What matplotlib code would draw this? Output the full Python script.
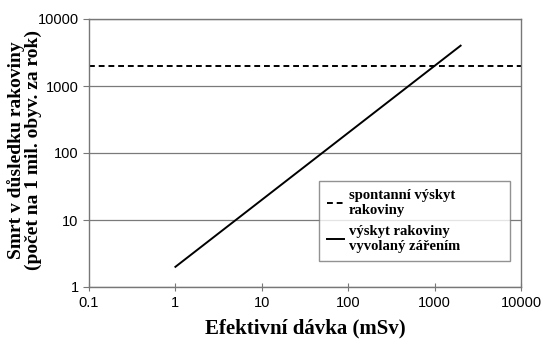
import matplotlib
matplotlib.use("Agg")
import matplotlib.pyplot as plt

# data
dose = [1, 2000]
radiation_deaths = [2, 4000]
spont_x = [0.1, 10000]
spont_y = [2000, 2000]

serif = "Liberation Serif"
sans = "Liberation Sans"

fig = plt.figure(figsize=(5.42, 3.46), dpi=100)
ax = fig.add_axes([89 / 542, 1 - 287 / 346, (521 - 89) / 542, (287 - 19) / 346])

ax.plot(spont_x, spont_y, color="black", lw=1.4, ls=(0, (3, 2)),
        label="spontanní výskyt\nrakoviny")
ax.plot(dose, radiation_deaths, color="black", lw=1.4,
        label="výskyt rakoviny\nvyvolaný zářením")

ax.set_xscale("log")
ax.set_yscale("log")
ax.set_xlim(0.1, 10000)
ax.set_ylim(1, 10000)
ax.set_xticks([0.1, 1, 10, 100, 1000, 10000])
ax.set_xticklabels(["0.1", "1", "10", "100", "1000", "10000"])
ax.set_yticks([1, 10, 100, 1000, 10000])
ax.set_yticklabels(["1", "10", "100", "1000", "10000"])
ax.minorticks_off()
ax.tick_params(axis="both", labelsize=10.5, length=4, color="#777777")
for lab in ax.get_xticklabels() + ax.get_yticklabels():
    lab.set_fontfamily(sans)
ax.tick_params(axis="x", direction="inout", length=6)
ax.grid(axis="y", color="#7a7a7a", lw=0.9)
for s in ax.spines.values():
    s.set_color("#777777")
    s.set_linewidth(1.0)

ax.set_xlabel("Efektivní dávka (mSv)", fontsize=15, fontweight="bold",
              fontfamily=serif, labelpad=6)
ax.set_ylabel("Smrt v důsledku rakoviny\n(počet na 1 mil. obyv. za rok)",
              fontsize=14, fontweight="bold", fontfamily=serif,
              linespacing=0.95)
ax.yaxis.set_label_coords(-47 / 432, 0.51)

leg = ax.legend(loc="upper left", bbox_to_anchor=(0.532, 0.097, 0.442, 0.299),
                mode="expand",
                prop={"family": serif, "weight": "bold", "size": 10.5},
                frameon=True, fancybox=False, handlelength=1.2,
                handletextpad=0.3, labelspacing=0.55, borderpad=0.55,
                borderaxespad=0)
leg.get_frame().set_edgecolor("#777777")
leg.get_frame().set_linewidth(1.0)

fig.savefig("out.png", dpi=100)
